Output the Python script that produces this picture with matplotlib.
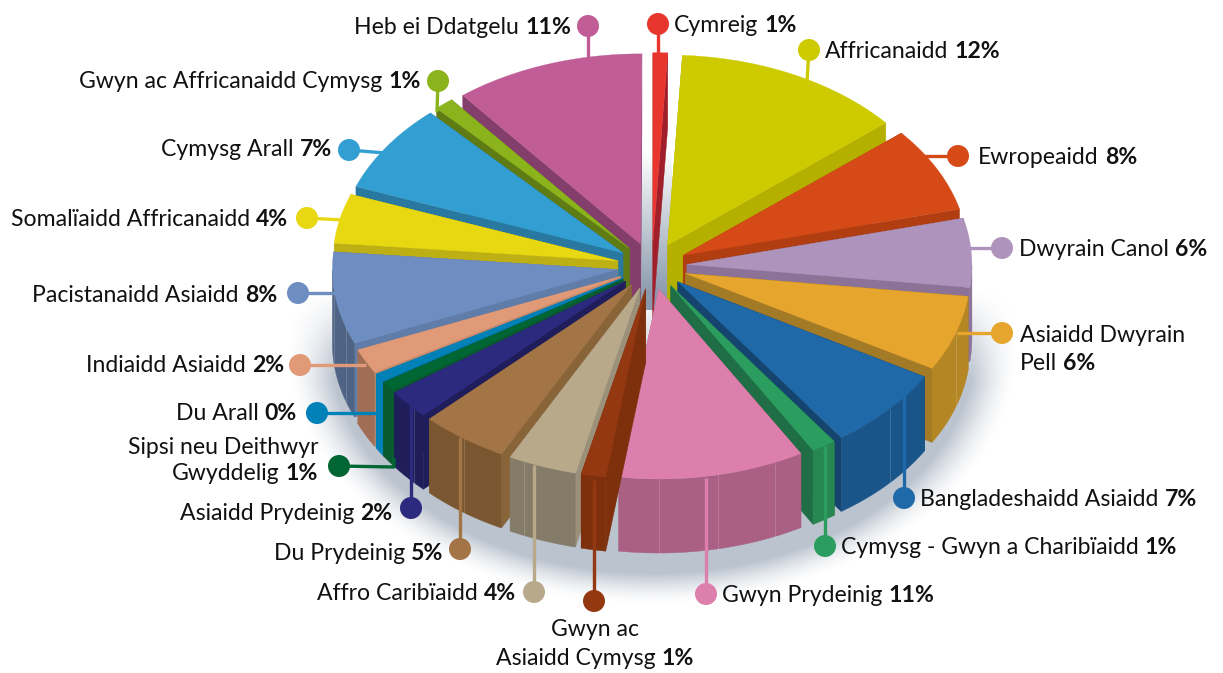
import numpy as np
import matplotlib
matplotlib.use('Agg')
import matplotlib.pyplot as plt
from matplotlib.patches import Circle, Polygon

# clockwise from the top, starting at Cymreig
categories = ['Cymreig', 'Affricanaidd', 'Ewropeaidd', 'Dwyrain Canol', 'Asiaidd Dwyrain Pell',
              'Bangladeshaidd Asiaidd', 'Cymysg - Gwyn a Charibïaidd', 'Gwyn Prydeinig',
              'Gwyn ac Asiaidd Cymysg', 'Affro Caribïaidd', 'Du Prydeinig', 'Asiaidd Prydeinig',
              'Sipsi neu Deithwyr Gwyddelig', 'Du Arall', 'Indiaidd Asiaidd', 'Pacistanaidd Asiaidd',
              'Somalïaidd Affricanaidd', 'Cymysg Arall', 'Gwyn ac Affricanaidd Cymysg', 'Heb ei Ddatgelu']
printed_pct = [1, 12, 8, 6, 6, 7, 1, 11, 1, 4, 5, 2, 1, 0, 2, 8, 4, 7, 1, 11]
# slice sizes as drawn in the picture (the printed numbers are rounded)
slice_share = [0.83, 13.05, 7.2, 5.85, 6.4, 6.95, 1.4, 10.55, 1.4, 3.9, 5.0, 2.5, 0.85, 0.7, 2.1, 7.8, 4.2,
               7.5, 1.1, 10.8]

top_colors = ['#e8352d', '#cdcb00', '#d64a18', '#ae93bd', '#e6a52d', '#1f69a9', '#2a9d5f', '#dd7fac',
              '#943812', '#b8a98b', '#a37445', '#2b2a7f', '#006633', '#0081b8', '#e09a78', '#6e8dc0',
              '#e8d812', '#339ed1', '#8ab31c', '#c05c96']
side_colors = ['#a01f2a', '#b5b000', '#b03e10', '#8b7296', '#a37a25', '#15446f', '#1f6e45', '#a96083',
               '#7e300d', '#9b9079', '#8a6439', '#1f1d5a', '#0a5a30', '#00709f', '#c58a6c', '#607ca8',
               '#bcb015', '#2878a0', '#5f7c14', '#843e6b']
rim_colors = ['#a01f2a', '#b5b000', '#b03e10', '#8b7296', '#b48624', '#1a558a', '#288750', '#a96083',
              '#7e300d', '#847c68', '#7a5731', '#1f1d5a', '#0a5a30', '#0081b8', '#a06e54', '#4f6485',
              '#bcb015', '#2878a0', '#5f7c14', '#843e6b']

CX, CY = 652, 266
R = 285
SQUASH = 0.667
EXPLODE = 35
DEPTH = 74
START = 0

fig = plt.figure(figsize=(12.23, 6.73), dpi=100)
ax = fig.add_axes([0, 0, 1, 1])
ax.set_xlim(0, 1223)
ax.set_ylim(673, 0)
ax.axis('off')
plt.rcParams['font.family'] = ['Lato', 'DejaVu Sans']
FS = 16.6


def plan(t, r, apex=(0, 0)):
    t = np.radians(t)
    return apex[0] + r * np.sin(t), apex[1] - r * SQUASH * np.cos(t)


# soft shadow under the front of the pie
gx, gy = np.meshgrid(np.arange(280, 1030), np.arange(250, 640))
d = np.hypot((gx - 652) / 322, (gy - 345) / 228)
a = np.clip((1.14 - d) / 0.14, 0, 1) ** 1.6 * 0.5 * np.clip((gy - 290) / 90, 0, 1)
rgba = np.zeros(gx.shape + (4,))
rgba[..., :3] = matplotlib.colors.to_rgb('#77889f')
rgba[..., 3] = a
ax.imshow(rgba, extent=(280, 1030, 640, 250), zorder=1, aspect='auto')

# gray gradient seen in the gap round the middle
grad = np.zeros((160, 1, 4))
grad[..., :3] = matplotlib.colors.to_rgb('#8a99ac')
grad[:, 0, 3] = np.clip(np.linspace(0, 1.1, 160), 0, 1)
ax.imshow(grad, extent=(630, 672, 310, 150), zorder=1, aspect='auto')
ax.set_xlim(0, 1223)
ax.set_ylim(673, 0)

edges = START + np.cumsum([0] + slice_share) * 3.6
slices = []
for i in range(len(categories)):
    t0, t1 = edges[i], edges[i + 1]
    mid = (t0 + t1) / 2
    apex = plan(mid, EXPLODE, (CX, CY))
    slices.append((-np.cos(np.radians(mid)), i, t0, t1, apex))
slices.sort()

z = 2
for _, i, t0, t1, apex in slices:
    ts = np.arange(t0, t1 + 0.01, 0.5)
    ts[-1] = t1
    xs, ys = plan(ts, R, apex)
    # radial walls
    for t in (t0, t1):
        rx, ry = plan(t, R, apex)
        ax.add_patch(Polygon([apex, (rx, ry), (rx, ry + DEPTH), (apex[0], apex[1] + DEPTH)],
                             fc=side_colors[i], ec=side_colors[i], lw=0.3, zorder=z))
    # outer wall, only the part that faces us
    front = (ts >= 90) & (ts <= 270)
    if front.sum() > 1:
        fx, fy = xs[front], ys[front]
        pts = list(zip(fx, fy)) + list(zip(fx[::-1], fy[::-1] + DEPTH))
        ax.add_patch(Polygon(pts, fc=rim_colors[i], ec=rim_colors[i], lw=0.3, zorder=z))
        # thin facet lines on the wall
        for t in np.arange(np.ceil(t0 / 12) * 12, t1, 12):
            if 90 < t < 270 and t0 + 2 < t < t1 - 2:
                lx, ly = plan(t, R, apex)
                ax.plot([lx, lx], [ly, ly + DEPTH], color='white', alpha=0.16, lw=0.7, zorder=z)
    ax.add_patch(Polygon([apex] + list(zip(xs, ys)), fc=top_colors[i], ec=top_colors[i], lw=0.2, zorder=z + 0.5))
    z += 1

# label layout: dot centre, leader end, text anchor, alignment, lines of plain text
layout = {
    0: ((658, 24), [(658, 58)], 674, 25, 'left', ['Cymreig']),
    1: ((809, 50), [(807, 82)], 825, 51, 'left', ['Affricanaidd']),
    2: ((958, 156), [(920, 156)], 978, 157, 'left', ['Ewropeaidd']),
    3: ((1002, 248), [(968, 248)], 1019, 249, 'left', ['Dwyrain Canol']),
    4: ((1002, 333), [(957, 333)], 1020, 335, 'left', ['Asiaidd Dwyrain', 'Pell']),
    5: ((904, 498), [(904, 396)], 920, 499, 'left', ['Bangladeshaidd Asiaidd']),
    6: ((825, 546), [(825, 446)], 841, 547, 'left', ['Cymysg - Gwyn a Charibïaidd']),
    7: ((706, 594), [(706, 478)], 722, 595, 'left', ['Gwyn Prydeinig']),
    8: ((594, 601), [(594, 480)], 595, 630, 'center', ['Gwyn ac', 'Asiaidd Cymysg']),
    9: ((534, 592), [(534, 465)], 516, 593, 'right', ['Affro Caribïaidd']),
    10: ((460, 549), [(460, 437)], 443, 553, 'right', ['Du Prydeinig']),
    11: ((411, 508), [(411, 400)], 392, 513, 'right', ['Asiaidd Prydeinig']),
    12: ((339, 466), [(394, 467), (394, 458)], 318, 448, 'right', ['Sipsi neu Deithwyr', 'Gwyddelig']),
    13: ((317, 413), [(380, 413)], 297, 413, 'right', ['Du Arall']),
    14: ((300, 365), [(366, 365)], 284, 365, 'right', ['Indiaidd Asiaidd']),
    15: ((298, 293), [(335, 293)], 277, 296, 'right', ['Pacistanaidd Asiaidd']),
    16: ((307, 218), [(342, 220)], 288, 219, 'right', ['Somalïaidd Affricanaidd']),
    17: ((349, 150), [(385, 153)], 332, 150, 'right', ['Cymysg Arall']),
    18: ((438, 81), [(437, 112)], 421, 82, 'right', ['Gwyn ac Affricanaidd Cymysg']),
    19: ((588, 26), [(588, 60)], 571, 27, 'right', ['Heb ei Ddatgelu']),
}
LINE = 28.5
fig.canvas.draw()
rend = fig.canvas.get_renderer()


def text_width(s, weight):
    t = ax.text(0, 0, s, fontsize=FS, fontweight=weight)
    w = t.get_window_extent(rend).width
    t.remove()
    return w


for i, (dot, path, tx, ty, align, lines) in layout.items():
    px = [dot[0]] + [p[0] for p in path]
    py = [dot[1]] + [p[1] for p in path]
    ax.plot(px, py, color=top_colors[i], lw=2.4, solid_capstyle='butt', zorder=60)
    ax.add_patch(Circle(dot, 11, fc=top_colors[i], ec='none', zorder=61))
    pct = f'{printed_pct[i]}%'
    spacing = 26 if i == 12 else LINE
    for n, line in enumerate(lines):
        y = ty + n * spacing
        last = n == len(lines) - 1
        if not last:
            ax.text(tx, y, line, fontsize=FS, color='#111111', ha=align, va='center', zorder=62)
            continue
        w_b = text_width(pct, 'bold')
        w_n = text_width(line, 'normal') + 6
        if align == 'left':
            left = tx
        elif align == 'right':
            left = tx - w_b - w_n
        else:
            left = tx - (w_b + w_n) / 2
        ax.text(left, y, line, fontsize=FS, color='#111111', ha='left', va='center', zorder=62)
        ax.text(left + w_n, y, pct, fontsize=FS, fontweight='bold', color='#111111', ha='left', va='center', zorder=62)

fig.savefig('out.png', dpi=100, facecolor='white')
